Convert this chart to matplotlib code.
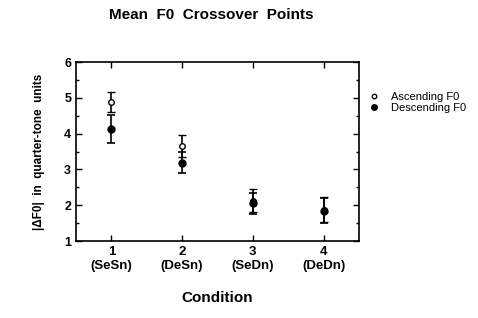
import matplotlib
matplotlib.use('Agg')
import matplotlib.pyplot as plt
from matplotlib.ticker import MultipleLocator

# DATA ========================================================================
conditions = [1, 2, 3, 4]
cond_labels = ['1\n(SeSn)', '2\n(DeSn)', '3\n(SeDn)', '4\n(DeDn)']

asc_mean = [4.88, 3.65, 2.12, 1.87]
asc_err = [0.29, 0.30, 0.32, 0.35]

desc_mean = [4.12, 3.19, 2.05, 1.85]
desc_err = [0.39, 0.29, 0.29, 0.35]

# PLOT ========================================================================
plt.rcParams['font.family'] = ['Liberation Sans', 'DejaVu Sans']

fig = plt.figure(figsize=(4.78, 3.18), dpi=100)
ax = fig.add_axes([0.159, 0.242, 0.592, 0.563])

asc = ax.errorbar(conditions, asc_mean, yerr=asc_err, fmt='o',
                  color='black', markerfacecolor='white',
                  markeredgewidth=1, markersize=4, capsize=3,
                  elinewidth=1.2, capthick=1.2, zorder=2)
desc = ax.errorbar(conditions, desc_mean, yerr=desc_err, fmt='o',
                   color='black', markersize=5, capsize=3, elinewidth=1.2,
                   capthick=1.2, zorder=3)

ax.set_xlim(0.5, 4.5)
ax.set_ylim(1, 6)
ax.set_xticks(conditions)
ax.set_xticklabels(cond_labels, fontweight='bold', fontsize=9.5)
ax.yaxis.set_major_locator(MultipleLocator(1))
ax.yaxis.set_minor_locator(MultipleLocator(0.5))
for lab in ax.get_yticklabels():
    lab.set_fontweight('bold')
    lab.set_fontsize(9)
ax.tick_params(direction='in', top=True, right=True, length=4, width=1)
ax.tick_params(which='minor', direction='in', right=True, length=2, width=1)
for s in ax.spines.values():
    s.set_linewidth(1.2)

fig.text(211 / 478, 1 - 15 / 318, 'Mean  F0  Crossover  Points',
         fontweight='bold', fontsize=11, ha='center', va='center')
ax.set_xlabel('Condition', fontweight='bold', fontsize=11, labelpad=14)
ax.set_ylabel('|\u0394F0|  in  quarter-tone  units', fontweight='bold',
              fontsize=8.5, labelpad=14)

ax.legend([asc[0], desc[0]], ['Ascending F0', 'Descending F0'],
          loc='upper left', bbox_to_anchor=(1.02, 0.86), frameon=False,
          fontsize=8, handlelength=0.8, handletextpad=1.2,
          labelspacing=0.1, borderaxespad=0, markerscale=0.8)

fig.savefig('out.png', dpi=100)
